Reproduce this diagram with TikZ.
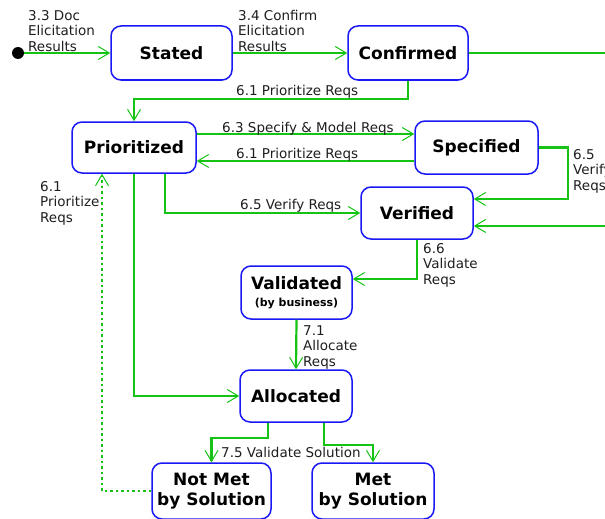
\documentclass[tikz,border=0pt]{standalone}
\usepackage{fontspec}
\setmainfont{DejaVu Sans}
\usetikzlibrary{arrows.meta}
\definecolor{lg}{RGB}{20,195,20}
\definecolor{bb}{RGB}{25,25,245}
\definecolor{tx}{RGB}{30,30,30}
\tikzset{
  stbox/.style={draw=bb, line width=1.5pt, rounded corners=10pt, fill=white, inner sep=0pt,
    align=center, font=\bfseries\fontsize{17}{20.5}\selectfont},
  arr/.style={draw=lg, line width=2.2pt, -{Straight Barb[length=11pt,width=13pt,line width=1pt]}},
  ln/.style={draw=lg, line width=2.2pt},
  dotarr/.style={draw=lg, line width=2.2pt, dash pattern=on 2.5pt off 3pt,
    -{Straight Barb[length=11pt,width=13pt,line width=1pt]}},
  lbl/.style={text=tx, inner sep=0pt, align=left, anchor=north west,
    font=\fontsize{13.5}{15.5}\selectfont}
}
\begin{document}
\begin{tikzpicture}[x=1pt,y=-1pt]
\useasboundingbox (0,0) rectangle (605,519);
\node[circle, fill=black, minimum size=12pt, inner sep=0pt] (init) at (18,53) {};
\node[stbox, minimum width=121pt, minimum height=54pt] (stated) at (171.5,53) {Stated};
\node[stbox, minimum width=120pt, minimum height=54pt] (confirmed) at (408,53) {Confirmed};
\node[stbox, minimum width=124pt, minimum height=51pt] (prioritized) at (134,147.5) {Prioritized};
\node[stbox, minimum width=123pt, minimum height=53pt] (specified) at (476.5,147.5) {Specified};
\node[stbox, minimum width=112pt, minimum height=52pt] (verified) at (417,213) {Verified};
\node[stbox, minimum width=111pt, minimum height=53pt] (validated) at (296.5,292.5) {Validated\\[-3pt]{\fontsize{11}{12}\selectfont (by business)}};
\node[stbox, minimum width=112pt, minimum height=52pt] (allocated) at (296,396) {Allocated};
\node[stbox, minimum width=119pt, minimum height=56pt] (notmet) at (211.5,491) {Not Met\\by Solution};
\node[stbox, minimum width=122pt, minimum height=56pt] (met) at (373,491) {Met\\by Solution};
\coordinate (outR) at (605,53);
\coordinate (inR) at (605,226);

\draw[arr] (init) -- (stated.west);
\draw[arr] (stated.east) -- (confirmed.west);
\draw[ln] (confirmed.east) -- (outR);
\draw[arr] (confirmed.south) -- ++(0,18) -| (prioritized.north);
\draw[arr] ([yshift=13.5pt]prioritized.east) -- ([yshift=13.5pt]specified.west);
\draw[arr] ([yshift=-13.5pt]specified.west) -- ([yshift=-13.5pt]prioritized.east);
\draw[arr] ([xshift=31pt]prioritized.south) |- (verified.west);
\draw[arr] (specified.east) -- ++(29,0) |- ([yshift=14pt]verified.east);
\draw[arr] (inR) -- ([yshift=-13pt]verified.east);
\draw[arr] (verified.south) |- ([yshift=13.5pt]validated.east);
\draw[arr] (validated.south) -- (allocated.north);
\draw[arr] (prioritized.south) |- (allocated.west);
\draw[arr] ([xshift=-28pt]allocated.south) -- ++(0,15) -| (notmet.north);
\draw[arr] ([xshift=28pt]allocated.south) -- ++(0,22) -| (met.north);
\draw[dotarr] (notmet.west) -| ([xshift=-32pt]prioritized.south);

\node[lbl] (l1) at (28,10) {3.3 Doc\\Elicitation\\Results};
\node[lbl] (l2) at (238,10) {3.4 Confirm\\Elicitation\\Results};
\node[lbl] (l3) at (236,85) {6.1 Prioritize Reqs};
\node[lbl] (l4) at (222,122) {6.3 Specify \& Model Reqs};
\node[lbl] (l5) at (236,148) {6.1 Prioritize Reqs};
\node[lbl] (l6) at (240,199) {6.5 Verify Reqs};
\node[lbl] (l7) at (573,149) {6.5\\Verify\\Reqs};
\node[lbl] (l8) at (423,243) {6.6\\Validate\\Reqs};
\node[lbl] (l9) at (303,325) {7.1\\Allocate\\Reqs};
\node[lbl] (l10) at (221,447) {7.5 Validate Solution};
\node[lbl] (l11) at (40,181) {6.1\\Prioritize\\Reqs};
\end{tikzpicture}
\end{document}
